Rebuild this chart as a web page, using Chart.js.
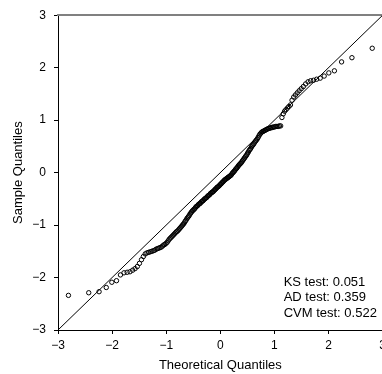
<!DOCTYPE html>
<html lang="en">
<head>
  <meta charset="UTF-8" />
  <title>Normal Q-Q Plot</title>
  <style>
    html, body {
      margin: 0;
      padding: 0;
      background: #fff;
      overflow: hidden;
    }
    #wrap {
      width: 390px;
      height: 374px;
    }
  </style>
</head>
<body>
  <div id="wrap"><canvas id="qqChart" width="390" height="374"></canvas></div>

  <script src="https://cdn.jsdelivr.net/npm/chart.js"></script>
  <script>
    // theoretical normal quantiles (n = 200)
    const theoretical = [
      -2.807, -2.432, -2.241, -2.108, -2.005, -1.919, -1.846, -1.780, -1.722, -1.669,
      -1.621, -1.576, -1.534, -1.495, -1.457, -1.422, -1.388, -1.356, -1.325, -1.296,
      -1.267, -1.240, -1.213, -1.188, -1.163, -1.138, -1.115, -1.092, -1.069, -1.047,
      -1.026, -1.005, -0.984, -0.964, -0.944, -0.925, -0.906, -0.887, -0.868, -0.850,
      -0.832, -0.815, -0.797, -0.780, -0.763, -0.747, -0.730, -0.714, -0.698, -0.682,
      -0.666, -0.651, -0.636, -0.620, -0.605, -0.590, -0.576, -0.561, -0.546, -0.532,
      -0.518, -0.503, -0.489, -0.475, -0.461, -0.448, -0.434, -0.420, -0.407, -0.393,
      -0.380, -0.366, -0.353, -0.340, -0.327, -0.313, -0.300, -0.287, -0.274, -0.261,
      -0.248, -0.236, -0.223, -0.210, -0.197, -0.184, -0.171, -0.158, -0.146, -0.133,
      -0.120, -0.107, -0.094, -0.082, -0.069, -0.056, -0.044, -0.031, -0.019, -0.006,
      0.006, 0.019, 0.031, 0.044, 0.056, 0.069, 0.082, 0.094, 0.107, 0.120,
      0.133, 0.146, 0.158, 0.171, 0.184, 0.197, 0.210, 0.223, 0.236, 0.248,
      0.261, 0.274, 0.287, 0.300, 0.313, 0.327, 0.340, 0.353, 0.366, 0.380,
      0.393, 0.407, 0.420, 0.434, 0.448, 0.461, 0.475, 0.489, 0.503, 0.518,
      0.532, 0.546, 0.561, 0.576, 0.590, 0.605, 0.620, 0.636, 0.651, 0.666,
      0.682, 0.698, 0.714, 0.730, 0.747, 0.763, 0.780, 0.797, 0.815, 0.832,
      0.850, 0.868, 0.887, 0.906, 0.925, 0.944, 0.964, 0.984, 1.005, 1.026,
      1.047, 1.069, 1.092, 1.115, 1.138, 1.163, 1.188, 1.213, 1.240, 1.267,
      1.296, 1.325, 1.356, 1.388, 1.422, 1.457, 1.495, 1.534, 1.576, 1.621,
      1.669, 1.722, 1.780, 1.846, 1.919, 2.005, 2.108, 2.241, 2.432, 2.807
    ];

    // sorted sample values
    const sample = [
      -2.34, -2.29, -2.27, -2.19, -2.09, -2.06, -1.95, -1.91, -1.90, -1.89,
      -1.86, -1.83, -1.79, -1.73, -1.66, -1.60, -1.55, -1.53, -1.52, -1.51,
      -1.50, -1.49, -1.48, -1.46, -1.45, -1.44, -1.43, -1.42, -1.40, -1.38,
      -1.37, -1.35, -1.33, -1.30, -1.27, -1.25, -1.23, -1.21, -1.19, -1.17,
      -1.15, -1.13, -1.12, -1.10, -1.08, -1.06, -1.04, -1.02, -1.00, -0.98,
      -0.96, -0.93, -0.91, -0.88, -0.86, -0.84, -0.82, -0.79, -0.77, -0.75,
      -0.73, -0.72, -0.70, -0.69, -0.67, -0.65, -0.64, -0.63, -0.61, -0.60,
      -0.59, -0.58, -0.56, -0.55, -0.54, -0.53, -0.51, -0.50, -0.49, -0.48,
      -0.47, -0.45, -0.44, -0.43, -0.42, -0.40, -0.39, -0.38, -0.37, -0.36,
      -0.35, -0.33, -0.32, -0.31, -0.29, -0.28, -0.27, -0.26, -0.25, -0.23,
      -0.22, -0.21, -0.19, -0.18, -0.17, -0.15, -0.14, -0.13, -0.12, -0.11,
      -0.10, -0.09, -0.08, -0.07, -0.06, -0.05, -0.03, -0.01, 0.00, 0.02,
      0.03, 0.05, 0.07, 0.08, 0.10, 0.12, 0.14, 0.15, 0.17, 0.18,
      0.20, 0.22, 0.24, 0.26, 0.28, 0.30, 0.32, 0.34, 0.37, 0.39,
      0.42, 0.44, 0.46, 0.49, 0.51, 0.53, 0.55, 0.58, 0.60, 0.62,
      0.64, 0.67, 0.70, 0.73, 0.75, 0.77, 0.78, 0.79, 0.80, 0.81,
      0.82, 0.83, 0.84, 0.845, 0.85, 0.86, 0.86, 0.87, 0.87, 0.88,
      0.88, 0.88, 0.89, 0.89, 1.05, 1.12, 1.17, 1.20, 1.23, 1.26,
      1.29, 1.38, 1.44, 1.48, 1.52, 1.56, 1.60, 1.64, 1.69, 1.73,
      1.75, 1.76, 1.78, 1.80, 1.84, 1.90, 1.94, 2.11, 2.19, 2.37
    ];

    // reference line y = x
    const refLineX = [-3, 3];
    const refLineY = [-3, 3];

    const tickValues = [-3, -2, -1, 0, 1, 2, 3];
    const tickLabels = ['\u22123', '\u22122', '\u22121', '0', '1', '2', '3'];

    const testLines = ['KS test: 0.051', 'AD test: 0.359', 'CVM test: 0.522'];

    const family = '"Liberation Sans", Arial, Helvetica, sans-serif';

    const points = theoretical.map((x, i) => ({ x: x, y: sample[i] }));
    const refLine = refLineX.map((x, i) => ({ x: x, y: refLineY[i] }));

    const tickText = v => {
      const idx = tickValues.indexOf(Math.round(v * 1000) / 1000);
      return idx >= 0 ? tickLabels[idx] : '';
    };

    // the three test results in the lower right corner
    const statsText = {
      id: 'statsText',
      afterDraw(chart) {
        const { ctx, chartArea } = chart;
        ctx.save();
        ctx.font = '13px ' + family;
        ctx.fillStyle = '#000';
        ctx.textAlign = 'left';
        ctx.textBaseline = 'middle';
        testLines.forEach((t, i) => {
          ctx.fillText(t, chartArea.right - 99, chartArea.bottom - 48 + i * 15.5);
        });
        ctx.restore();
      }
    };

    new Chart(document.getElementById('qqChart'), {
      type: 'scatter',
      data: {
        datasets: [
          {
            data: refLine,
            showLine: true,
            borderColor: '#000',
            borderWidth: 1,
            pointRadius: 0,
            fill: false
          },
          {
            data: points,
            pointStyle: 'circle',
            pointRadius: 2.2,
            pointBorderWidth: 1,
            pointBorderColor: '#000',
            pointBackgroundColor: 'rgba(0,0,0,0)'
          }
        ]
      },
      options: {
        responsive: false,
        animation: false,
        layout: { padding: { top: 15, right: 5, left: 0, bottom: 0 } },
        plugins: {
          legend: { display: false },
          tooltip: { enabled: false }
        },
        scales: {
          x: {
            type: 'linear',
            position: 'bottom',
            min: -3,
            max: 3,
            afterFit(scale) { scale.height = 44; },
            border: { display: true, color: '#000', width: 1 },
            grid: { drawOnChartArea: false, drawTicks: true, tickLength: 4, color: '#000' },
            ticks: {
              stepSize: 1,
              autoSkip: false,
              maxRotation: 0,
              padding: 4,
              color: '#000',
              font: { size: 12, family: family },
              callback: tickText
            },
            title: {
              display: true,
              text: 'Theoretical Quantiles',
              color: '#000',
              font: { size: 13, family: family },
              padding: { top: 0, bottom: 1 }
            }
          },
          y: {
            type: 'linear',
            position: 'left',
            min: -3,
            max: 3,
            afterFit(scale) { scale.width = 58; },
            border: { display: true, color: '#000', width: 1 },
            grid: { drawOnChartArea: false, drawTicks: true, tickLength: 4, color: '#000' },
            ticks: {
              stepSize: 1,
              autoSkip: false,
              padding: 8,
              color: '#000',
              font: { size: 12, family: family },
              callback: tickText
            },
            title: {
              display: true,
              text: 'Sample Quantiles',
              color: '#000',
              font: { size: 13, family: family },
              padding: { top: 11, bottom: 0 }
            }
          },
          top: {
            type: 'linear',
            position: 'top',
            min: -3,
            max: 3,
            afterFit(scale) { scale.height = 0; },
            border: { display: true, color: '#808080', width: 2 },
            grid: { drawOnChartArea: false, drawTicks: false },
            ticks: { display: false }
          }
        }
      },
      plugins: [statsText]
    });
  </script>
</body>
</html>
